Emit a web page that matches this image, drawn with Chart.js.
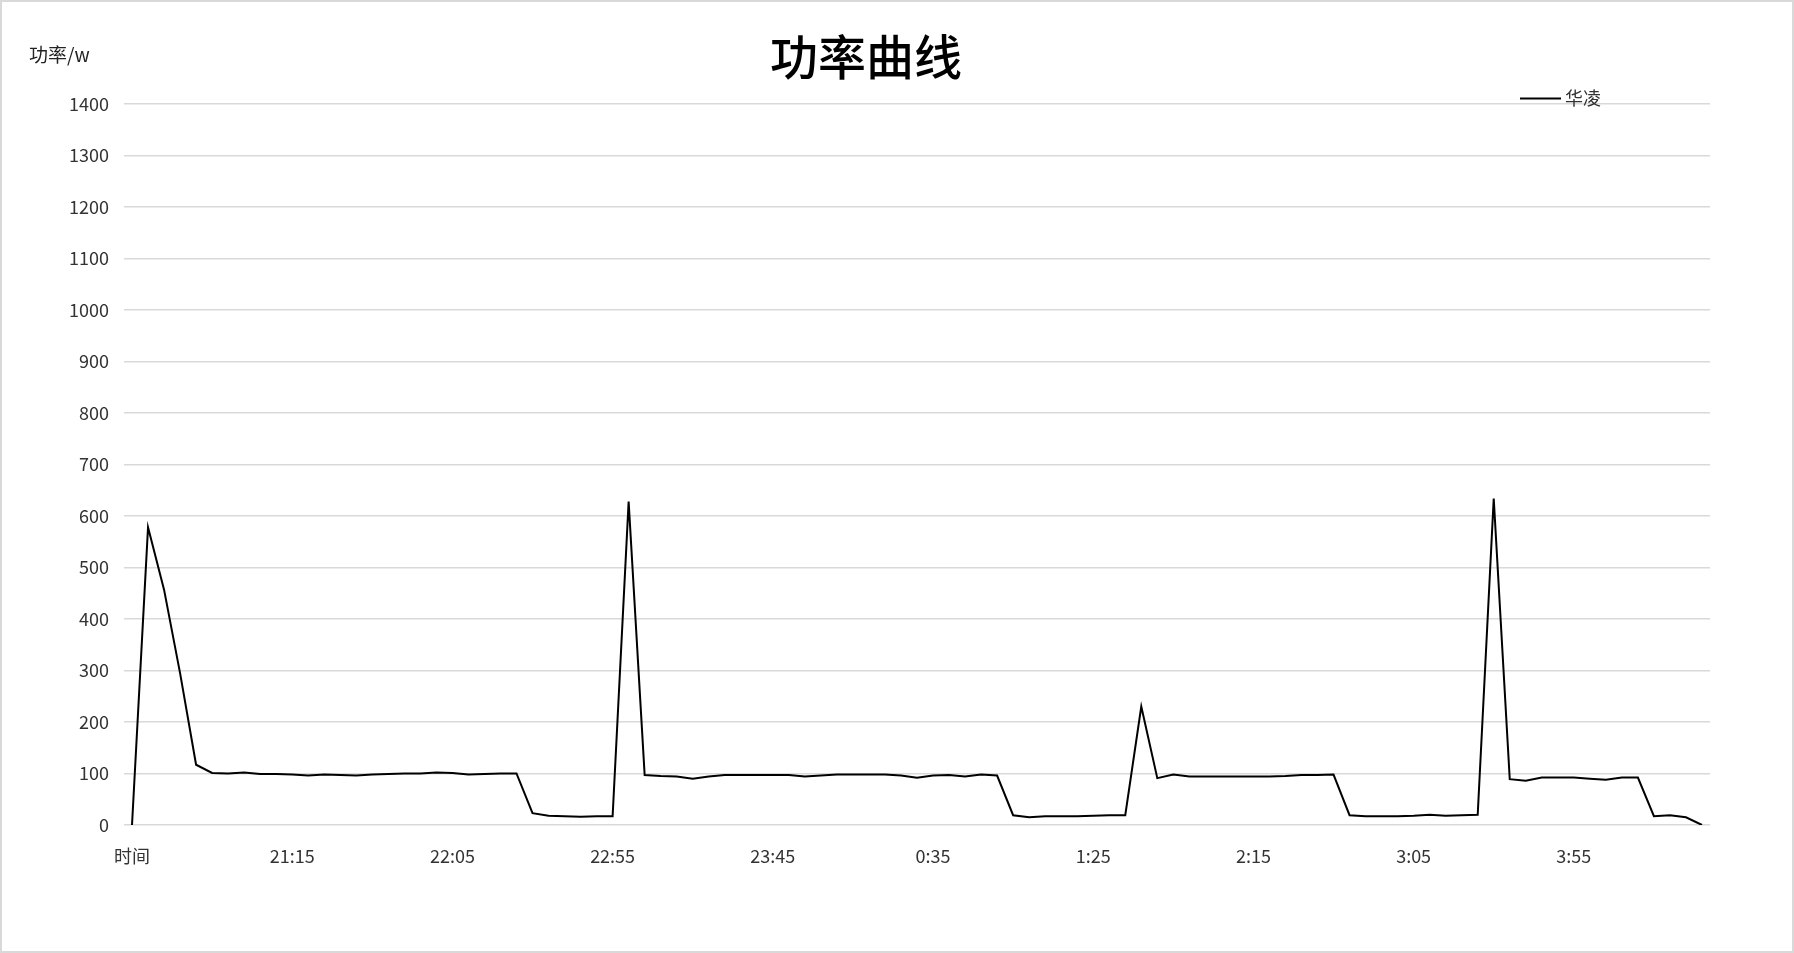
<!DOCTYPE html>
<html>
<head>
<meta charset="utf-8">
<script src="https://cdn.jsdelivr.net/npm/chart.js@4/dist/chart.umd.min.js"></script>
<style>
html,body{margin:0;padding:0;background:#fff;}
canvas{display:block;}
</style>
</head>
<body>
<canvas id="c" width="1794" height="953"></canvas>
<script>
const chartTitle = "功率曲线";
const yAxisTitle = "功率/w";
const seriesName = "华凌";

const categories = [
  "时间",
  "20:30","20:35","20:40","20:45","20:50","20:55",
  "21:00","21:05","21:10","21:15","21:20","21:25","21:30","21:35","21:40","21:45","21:50","21:55",
  "22:00","22:05","22:10","22:15","22:20","22:25","22:30","22:35","22:40","22:45","22:50","22:55",
  "23:00","23:05","23:10","23:15","23:20","23:25","23:30","23:35","23:40","23:45","23:50","23:55",
  "0:00","0:05","0:10","0:15","0:20","0:25","0:30","0:35","0:40","0:45","0:50","0:55",
  "1:00","1:05","1:10","1:15","1:20","1:25","1:30","1:35","1:40","1:45","1:50","1:55",
  "2:00","2:05","2:10","2:15","2:20","2:25","2:30","2:35","2:40","2:45","2:50","2:55",
  "3:00","3:05","3:10","3:15","3:20","3:25","3:30","3:35","3:40","3:45","3:50","3:55",
  "4:00","4:05","4:10","4:15","4:20","4:25","4:30","4:35"
];

const powerValues = [
  0, 578, 457, 295, 117, 101, 100, 102, 99, 99,
  98, 96, 98, 97, 96, 98, 99, 100, 100, 102,
  101, 98, 99, 100, 100, 23, 18, 17, 16, 17,
  17, 628, 97, 95, 94, 90, 94, 97, 97, 97,
  97, 97, 94, 96, 98, 98, 98, 98, 96, 92,
  96, 97, 94, 98, 96, 19, 15, 17, 17, 17,
  18, 19, 19, 230, 91, 98, 94, 94, 94, 94,
  94, 94, 95, 97, 97, 98, 19, 17, 17, 17,
  18, 20, 18, 19, 20, 634, 89, 86, 92, 92,
  92, 90, 88, 92, 92, 17, 19, 15, 0
];

const yMin = 0, yMax = 1400, yStep = 100;
const labelEvery = 10;

const FONT = '"Noto Sans CJK SC", "Noto Sans", sans-serif';

const decor = {
  id: 'decor',
  afterDraw(chart) {
    const ctx = chart.ctx;
    ctx.save();
    ctx.strokeStyle = '#d9d9d9';
    ctx.lineWidth = 2;
    ctx.strokeRect(1, 1, chart.width - 2, chart.height - 2);
    ctx.fillStyle = '#000';
    ctx.font = '500 48px ' + FONT;
    ctx.textAlign = 'center';
    ctx.textBaseline = 'middle';
    ctx.fillText(chartTitle, 866, 57);
    ctx.font = '19px ' + FONT;
    ctx.fillStyle = '#222';
    ctx.textAlign = 'left';
    ctx.fillText(yAxisTitle, 29, 55);
    ctx.strokeStyle = '#000';
    ctx.lineWidth = 2;
    ctx.beginPath();
    ctx.moveTo(1520, 98.5);
    ctx.lineTo(1561, 98.5);
    ctx.stroke();
    ctx.font = '18px ' + FONT;
    ctx.fillStyle = '#333';
    ctx.fillText(seriesName, 1565, 98);
    ctx.restore();
  }
};

new Chart(document.getElementById('c'), {
  type: 'line',
  data: {
    labels: categories,
    datasets: [{
      label: seriesName,
      data: powerValues,
      borderColor: '#000',
      borderWidth: 2,
      pointRadius: 0,
      tension: 0,
      fill: false
    }]
  },
  options: {
    responsive: false,
    animation: false,
    devicePixelRatio: 1,
    layout: { padding: { left: 0, right: 84, top: 104, bottom: 0 } },
    plugins: {
      legend: { display: false },
      title: { display: false },
      tooltip: { enabled: false }
    },
    scales: {
      x: {
        type: 'category',
        offset: true,
        grid: { display: false, drawTicks: false },
        border: { display: false },
        ticks: {
          autoSkip: false,
          maxRotation: 0,
          minRotation: 0,
          padding: 20,
          color: '#333',
          font: { family: FONT, size: 18 },
          callback: function(v, i) { return i % labelEvery === 0 ? categories[i] : null; }
        },
        afterFit(s) { s.height = 128; }
      },
      y: {
        min: yMin,
        max: yMax,
        grid: { color: '#d9d9d9', lineWidth: 1.5, drawTicks: false },
        border: { display: false },
        ticks: {
          stepSize: yStep,
          padding: 15,
          color: '#333',
          font: { family: FONT, size: 18 },
          callback: function(v) { return String(v); }
        },
        afterFit(s) { s.width = 124; }
      }
    }
  },
  plugins: [decor]
});
</script>
</body>
</html>
